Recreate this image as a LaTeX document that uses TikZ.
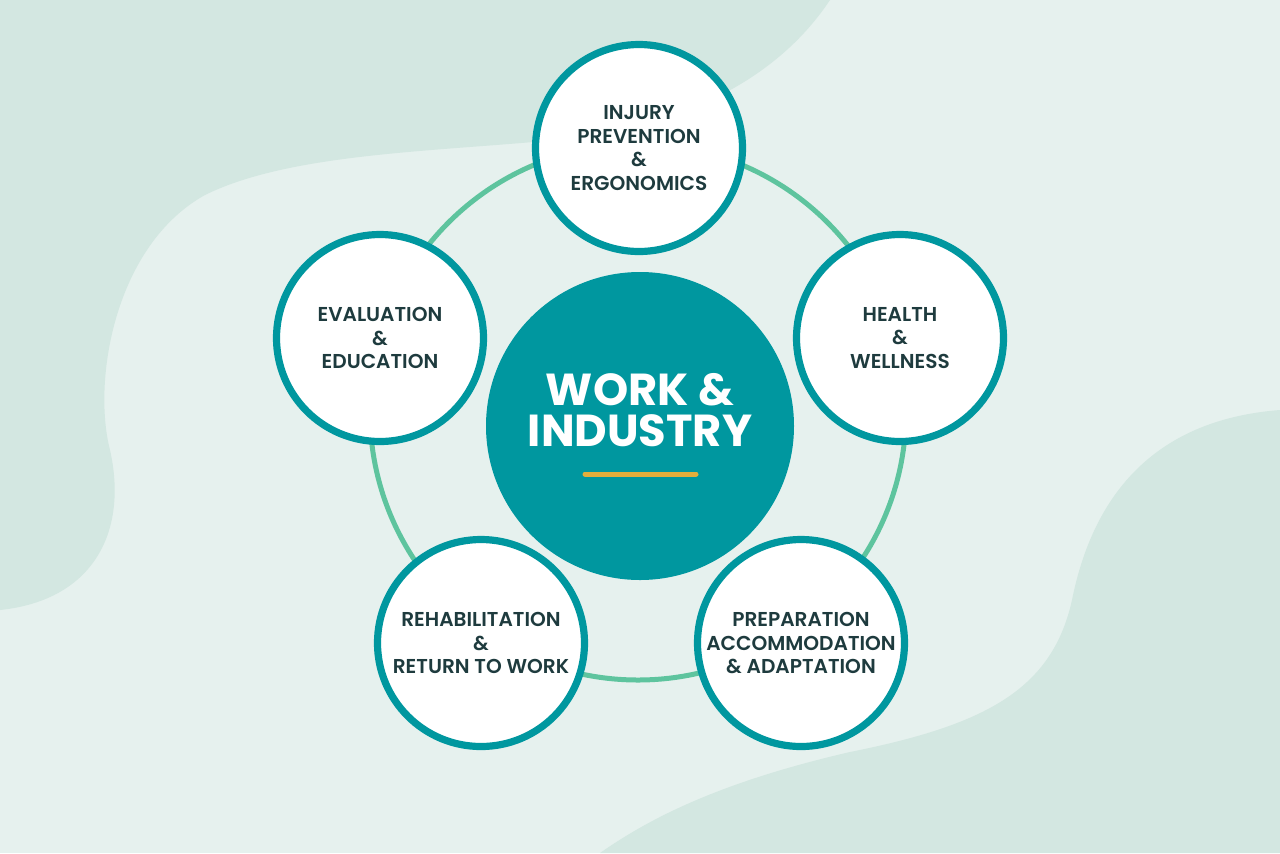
\documentclass[tikz,border=0pt]{standalone}
\usepackage{fontspec}
\setmainfont{Poppins}
\newfontfamily\semib{Poppins SemiBold}
\definecolor{bgc}{HTML}{E6F1EE}
\definecolor{blobc}{HTML}{D3E7E1}
\definecolor{tealc}{HTML}{00979F}
\definecolor{ringc}{HTML}{5EC49E}
\definecolor{txtc}{HTML}{1E3B3E}
\definecolor{goldc}{HTML}{E3AE3B}
\begin{document}
\begin{tikzpicture}[x=0.5pt,y=-0.5pt,
  sat/.style={circle,draw=tealc,line width=3.6pt,fill=white,minimum size=103.5pt,inner sep=0pt,
    align=center,text=txtc,font=\semib\fontsize{10.05}{11.75}\selectfont},
  hub/.style={circle,fill=tealc,minimum size=154pt,inner sep=0pt},
  titletext/.style={text=white,align=center,font=\bfseries\fontsize{22.4}{20.2}\selectfont},
  ringline/.style={draw=ringc,line width=2.5pt},
  goldline/.style={draw=goldc,line width=2.5pt,line cap=round}]
\useasboundingbox (0,0) rectangle (1280,853);
\fill[bgc] (0,0) rectangle (1280,853);
% top-left blob
\fill[blobc] (0,0) -- (830,0) .. controls (790,60) and (720,112) .. (600,135)
  .. controls (470,152) and (300,148) .. (205,195)
  .. controls (115,245) and (92,380) .. (110,450)
  .. controls (128,530) and (95,600) .. (0,610) -- cycle;
% bottom-right blob
\fill[blobc] (1280,410) .. controls (1150,420) and (1092,500) .. (1072,600)
  .. controls (1052,690) and (985,725) .. (850,752)
  .. controls (720,782) and (650,818) .. (600,853) -- (1280,853) -- cycle;
% ring
\coordinate (rc) at (638,412);
\draw[ringline] (rc) circle (268);
% hub
\node[hub] (hub) at (640,426) {};
\node[titletext] (title) at (640,410) {WORK \&\\INDUSTRY};
\coordinate (g1) at (585,474);
\coordinate (g2) at (696,474);
\draw[goldline] (g1) -- (g2);
% satellites
\node[sat] (inj) at (639,148) {INJURY\\PREVENTION\\\&\\ERGONOMICS};
\node[sat] (hw) at (900,338) {HEALTH\\\&\\WELLNESS};
\node[sat] (prep) at (801,643) {PREPARATION\\ACCOMMODATION\\\& ADAPTATION};
\node[sat] (rehab) at (481,643) {REHABILITATION\\\&\\RETURN TO WORK};
\node[sat] (eval) at (380,338) {EVALUATION\\\&\\EDUCATION};
\end{tikzpicture}
\end{document}
